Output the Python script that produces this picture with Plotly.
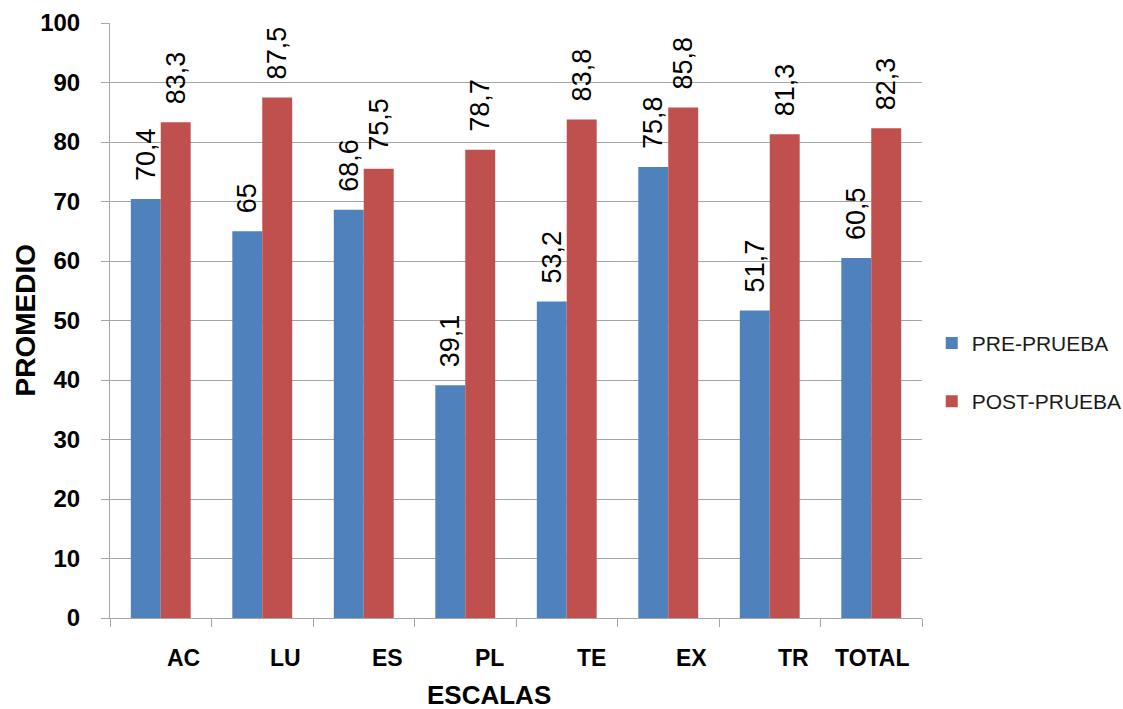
import plotly.graph_objects as go

# Scale categories and mean scores before / after the programme
escalas = ["AC", "LU", "ES", "PL", "TE", "EX", "TR", "TOTAL"]
pre_prueba = [70.4, 65, 68.6, 39.1, 53.2, 75.8, 51.7, 60.5]
post_prueba = [83.3, 87.5, 75.5, 78.7, 83.8, 85.8, 81.3, 82.3]
y_ticks = list(range(0, 101, 10))

BLUE = "#4F81BD"
RED = "#C0504D"
GRID = "#A6A6A6"
FONT = "Liberation Sans, Arial, sans-serif"


def fmt(v):
    # decimal comma, leading spaces lift the rotated label off the bar top
    return "\u00a0\u00a0" + f"{v:g}".replace(".", ",")


fig = go.Figure()
for name, vals, color in [("PRE-PRUEBA", pre_prueba, BLUE),
                          ("POST-PRUEBA", post_prueba, RED)]:
    fig.add_trace(go.Bar(
        x=escalas, y=vals, name=name, marker_color=color,
        marker_line_width=0,
        text=[fmt(v) for v in vals], textposition="outside",
        textangle=-90, constraintext="none", cliponaxis=False,
        textfont=dict(family=FONT, size=27, color="#000000"),
        legendgroup=name,
    ))

# category labels sit right-aligned inside each category slot
for cat in escalas:
    fig.add_annotation(
        x=cat, xref="x", y=0, yref="paper", yanchor="top",
        xanchor="right", xshift=41, yshift=-25, showarrow=False,
        text=cat, font=dict(family=FONT, size=23, color="#000000",
                            weight="bold"),
    )

fig.add_annotation(
    x=0.467, xref="paper", y=0, yref="paper", yanchor="middle",
    xanchor="center", yshift=-77, showarrow=False, text="ESCALAS",
    font=dict(family=FONT, size=26, color="#000000", weight="bold"),
)
fig.add_annotation(
    x=0, xref="paper", y=0.5, yref="paper", xanchor="center",
    yanchor="middle", xshift=-85, showarrow=False, text="PROMEDIO",
    textangle=-90,
    font=dict(family=FONT, size=28, color="#000000", weight="bold"),
)

fig.update_layout(
    width=1123, height=709,
    margin=dict(l=110, r=201, t=23, b=91, autoexpand=False),
    paper_bgcolor="white", plot_bgcolor="white",
    barmode="group", bargap=0.41, bargroupgap=0,
    showlegend=True,
    legend=dict(x=1.012, y=0.413, xanchor="left", yanchor="middle",
                font=dict(family=FONT, size=21, color="#1A1A1A"),
                tracegroupgap=28, traceorder="grouped",
                itemwidth=30),
    xaxis=dict(
        type="category", showticklabels=False, ticks="outside",
        tickson="boundaries", ticklen=8, tickcolor=GRID,
        showline=True, linecolor=GRID, linewidth=1, showgrid=False,
    ),
    yaxis=dict(
        range=[0, 100], tickvals=y_ticks, ticks="outside", ticklen=8,
        tickcolor=GRID, showline=True, linecolor=GRID, linewidth=1,
        showgrid=True, gridcolor=GRID, gridwidth=1, zeroline=False,
        ticklabelstandoff=16,
        tickfont=dict(family=FONT, size=24, color="#000000",
                      weight="bold"),
    ),
)

fig.write_html("out.html")
